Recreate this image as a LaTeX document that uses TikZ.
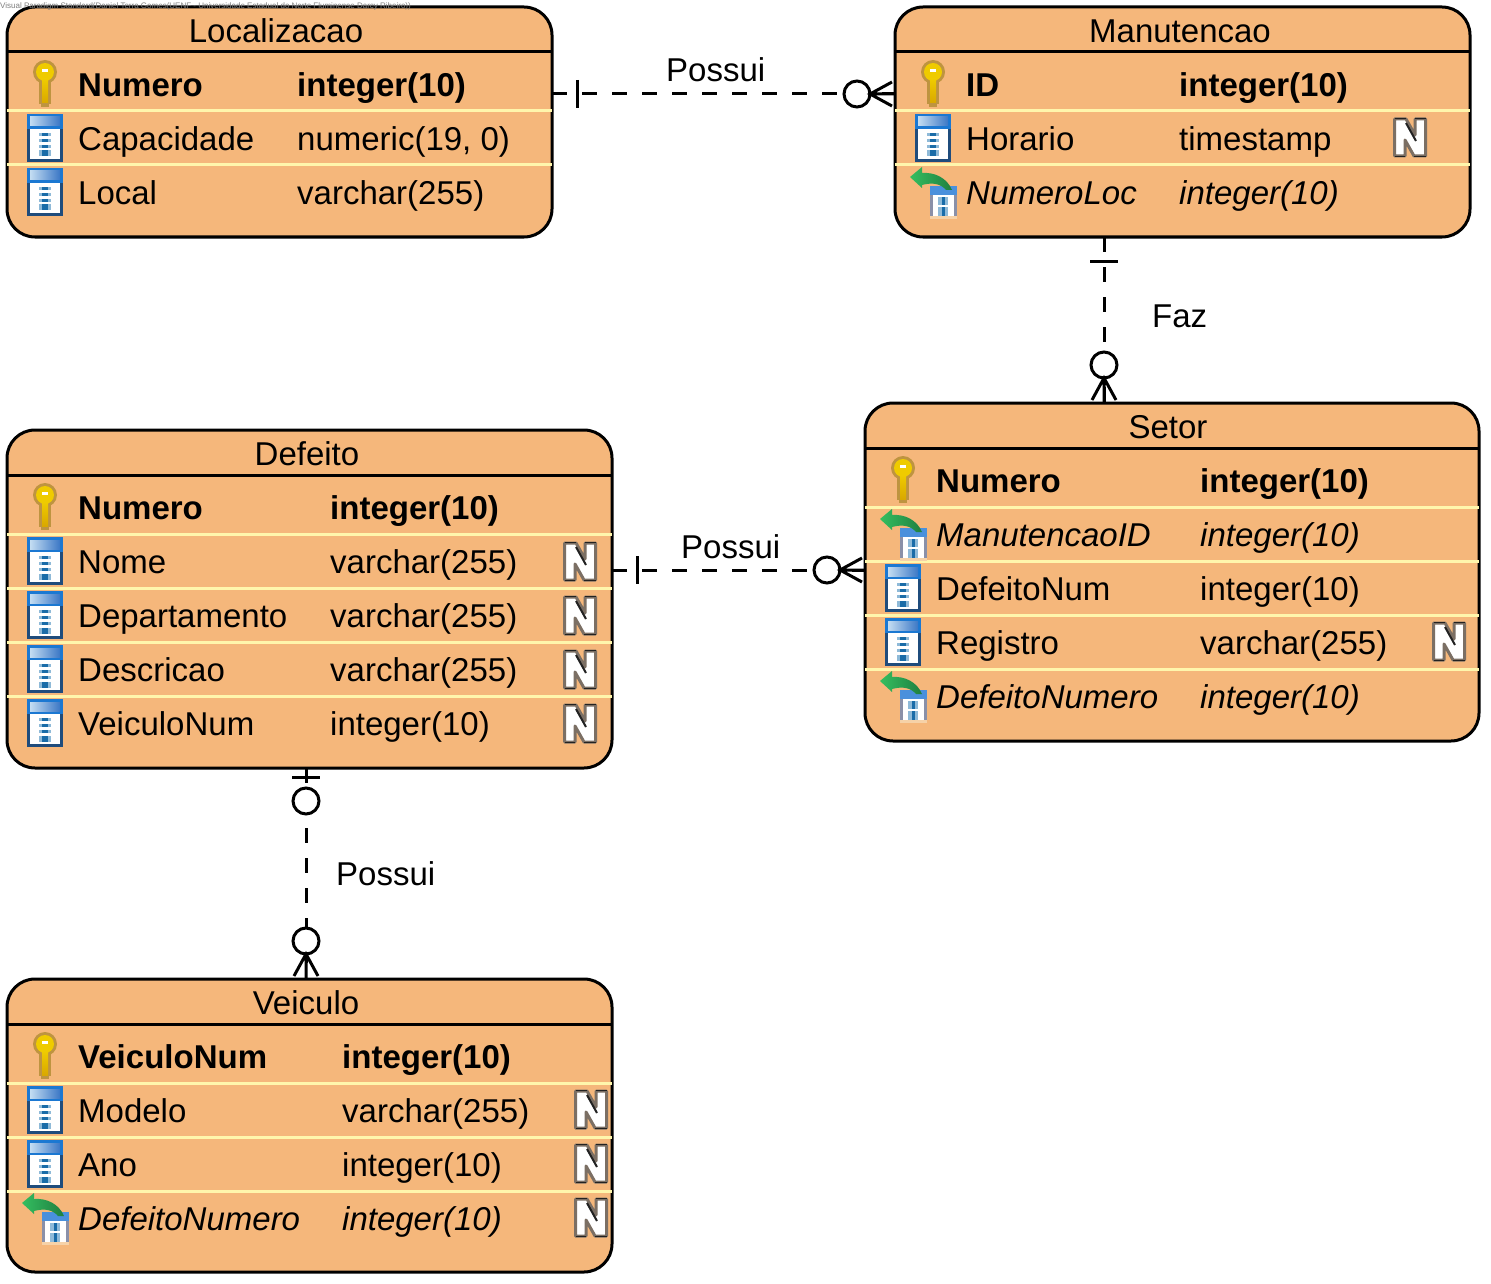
\documentclass[tikz,border=0pt]{standalone}
\usepackage{fontspec}
\setmainfont{Liberation Sans}
\definecolor{tablefill}{HTML}{F5B77B}
\definecolor{sepline}{HTML}{FFF6AC}
\definecolor{keygold}{HTML}{EFCB00}
\definecolor{keylow}{HTML}{D9A800}
\definecolor{keyrim}{HTML}{BE9440}
\definecolor{coldark}{HTML}{1F4C7C}
\definecolor{colblue}{HTML}{1B78D2}
\definecolor{stripe}{HTML}{1A6CA8}
\definecolor{stripelight}{HTML}{8FBAD8}
\definecolor{fkgreen}{HTML}{1F7F40}
\definecolor{fkbright}{HTML}{34BE60}
\definecolor{colbandA}{HTML}{C4DDF2}
\definecolor{colbandB}{HTML}{3C78C6}
\definecolor{fkside}{HTML}{8A90A8}
\definecolor{fkfoot}{HTML}{F6D2A8}
\definecolor{fkband}{HTML}{4A90DC}
\definecolor{nullrim}{HTML}{7B6F64}
\definecolor{nulldark}{HTML}{222222}
\tikzset{
  tablebox/.style={draw=black,line width=3pt,fill=tablefill,rounded corners=28pt,inner sep=0pt,outer sep=0pt},
  headline/.style={draw=black,line width=3pt},
  sepstyle/.style={draw=sepline,line width=3pt},
  titletext/.style={anchor=base,inner sep=0pt,font=\fontsize{33}{36}\selectfont},
  cell/.style={anchor=base west,inner sep=0pt,font=\fontsize{33}{36}\selectfont},
  pkcell/.style={cell,font=\fontsize{33}{36}\selectfont\bfseries},
  fkcell/.style={cell,font=\fontsize{33}{36}\selectfont\itshape},
  rellabel/.style={anchor=base west,inner sep=0pt,font=\fontsize{33}{36}\selectfont},
  relline/.style={draw=black,line width=3pt,dash pattern=on 15pt off 15pt},
  markline/.style={draw=black,line width=3pt},
  keyicon/.pic={
    \fill[keyrim] (-6,-5) rectangle (6,20);
    \fill[keyrim] (-4,20) rectangle (4,23);
    \fill[keyrim] (0,-12) circle (12pt);
    \fill[keygold] (0,-12) circle (9pt);
    \shade[top color=keygold,bottom color=keylow] (-3,-5) rectangle (3,19);
    \fill[white] (-3,-15) rectangle (3,-12);
  },
  colicon/.pic={
    \fill[coldark] (-18,-25) rectangle (18,23);
    \fill[colblue] (-18,-25) rectangle (18,-10);
    \shade[left color=colbandA,right color=colbandB] (-15,-22) rectangle (15,-13);
    \fill[white] (-15,-10) rectangle (15,20);
    \foreach \yy in {-6,0,6}{
      \fill[stripelight] (-6,\yy) rectangle (6,\yy+3);
      \fill[stripe] (-3,\yy) rectangle (3,\yy+3);
    }
    \fill[stripelight] (-6,11.5) rectangle (6,17.5);
    \fill[stripe] (-3,11.5) rectangle (3,17.5);
  },
  fkicon/.pic={
    \fill[white] (-13,-7) rectangle (14,26);
    \fill[fkside] (-13,-7) rectangle (-10,24);
    \fill[fkside] (11,-7) rectangle (14,24);
    \fill[fkfoot] (-13,23) rectangle (14,26);
    \fill[fkband] (-13,-7) rectangle (14,2);
    \fill[stripelight] (-5,4) rectangle (5,12);
    \fill[stripelight] (-5,14) rectangle (5,23);
    \fill[stripe] (-1.5,4) rectangle (1.5,12);
    \fill[stripe] (-1.5,14) rectangle (1.5,23);
    \shade[left color=fkbright,right color=fkgreen] (-33,-16) -- (-21,-26) -- (-21,-20)
      .. controls (-8,-21) and (4,-15) .. (9,-3) -- (3,-3)
      .. controls (-2,-9) and (-10,-11) .. (-21,-8) -- (-21,-5) -- cycle;
  },
  nullicon/.pic={
    \path[draw=nullrim,line width=3pt,line join=round,fill=white]
      (-15.5,-19) -- (-4,-19) -- (5,-3) -- (5,-19) -- (15.5,-19) -- (15.5,18) -- (4,18) -- (-5,2) -- (-5,18) -- (-15.5,18) -- cycle;
    \path[draw=nulldark,line width=1.5pt,line join=round]
      (-15.5,-19.5) -- (-4,-19.5) (5,-19.5) -- (15.5,-19.5) (-15.5,18.5) -- (-5,18.5) (4,18.5) -- (15.5,18.5);
    \path[draw=nulldark,line width=2pt] (-4,-15) -- (6,3);
  },
  manyend/.pic={
    \path[markline,fill=white] (-35,0) circle (13pt);
    \path[markline] (0,-12) -- (-22,0) -- (0,12) (-22,0) -- (3,0);
  },
  oneend/.pic={
    \path[markline] (0,-14) -- (0,14);
  },
  zeroone/.pic={
    \path[markline,fill=white] (0,0) circle (13pt);
  },
}
\begin{document}
\begin{tikzpicture}[x=1pt,y=-1pt]
\useasboundingbox[fill=white] (0,0) rectangle (1491,1284);

% tables
\node[tablebox,minimum width=545pt,minimum height=230pt] (loc) at (279.5,122) {};
\node[tablebox,minimum width=575pt,minimum height=230pt] (man) at (1182.5,122) {};
\node[tablebox,minimum width=614pt,minimum height=338pt] (set) at (1172,572) {};
\node[tablebox,minimum width=605pt,minimum height=338pt] (def) at (309.5,599) {};
\node[tablebox,minimum width=605pt,minimum height=293pt] (vei) at (309.5,1125.5) {};

% header rules and row separators
\draw[headline] (loc.west |- 0,52) -- (loc.east |- 0,52);
\draw[headline] (man.west |- 0,52) -- (man.east |- 0,52);
\draw[headline] (set.west |- 0,448) -- (set.east |- 0,448);
\draw[headline] (def.west |- 0,475) -- (def.east |- 0,475);
\draw[headline] (vei.west |- 0,1024) -- (vei.east |- 0,1024);
\foreach \yy in {111,165}{
  \draw[sepstyle] (loc.west |- 0,\yy) -- (loc.east |- 0,\yy);
  \draw[sepstyle] (man.west |- 0,\yy) -- (man.east |- 0,\yy);
}
\foreach \yy in {507,561,615,669}{\draw[sepstyle] (set.west |- 0,\yy) -- (set.east |- 0,\yy);}
\foreach \yy in {534,588,642,696}{\draw[sepstyle] (def.west |- 0,\yy) -- (def.east |- 0,\yy);}
\foreach \yy in {1083,1137,1191}{\draw[sepstyle] (vei.west |- 0,\yy) -- (vei.east |- 0,\yy);}

% titles
\node[titletext] (locT) at (276,43) {Localizacao};
\node[titletext] (manT) at (1180,43) {Manutencao};
\node[titletext] (setT) at (1168,438) {Setor};
\node[titletext] (defT) at (307,465) {Defeito};
\node[titletext] (veiT) at (306,1014) {Veiculo};

% Localizacao
\node[pkcell] (loc1a) at (78,97) {Numero};
\node[pkcell] (loc1b) at (297,97) {integer(10)};
\node[cell] (loc2a) at (78,151) {Capacidade};
\node[cell] (loc2b) at (297,151) {numeric(19, 0)};
\node[cell] (loc3a) at (78,205) {Local};
\node[cell] (loc3b) at (297,205) {varchar(255)};
\pic at (45,84) {keyicon};
\pic at (45,139) {colicon};
\pic at (45,193) {colicon};

% Manutencao
\node[pkcell] (man1a) at (966,97) {ID};
\node[pkcell] (man1b) at (1179,97) {integer(10)};
\node[cell] (man2a) at (966,151) {Horario};
\node[cell] (man2b) at (1179,151) {timestamp};
\node[fkcell] (man3a) at (966,205) {NumeroLoc};
\node[fkcell] (man3b) at (1179,205) {integer(10)};
\pic at (933,84) {keyicon};
\pic at (933,139) {colicon};
\pic at (943,193) {fkicon};
\pic at (1410,138) {nullicon};

% Setor
\node[pkcell] (set1a) at (936,492) {Numero};
\node[pkcell] (set1b) at (1200,492) {integer(10)};
\node[fkcell] (set2a) at (936,546) {ManutencaoID};
\node[fkcell] (set2b) at (1200,546) {integer(10)};
\node[cell] (set3a) at (936,600) {DefeitoNum};
\node[cell] (set3b) at (1200,600) {integer(10)};
\node[cell] (set4a) at (936,654) {Registro};
\node[cell] (set4b) at (1200,654) {varchar(255)};
\node[fkcell] (set5a) at (936,708) {DefeitoNumero};
\node[fkcell] (set5b) at (1200,708) {integer(10)};
\pic at (903,480) {keyicon};
\pic at (913,535) {fkicon};
\pic at (903,589) {colicon};
\pic at (903,643) {colicon};
\pic at (913,697) {fkicon};
\pic at (1449,642) {nullicon};

% Defeito
\node[pkcell] (def1a) at (78,519) {Numero};
\node[pkcell] (def1b) at (330,519) {integer(10)};
\node[cell] (def2a) at (78,573) {Nome};
\node[cell] (def2b) at (330,573) {varchar(255)};
\node[cell] (def3a) at (78,627) {Departamento};
\node[cell] (def3b) at (330,627) {varchar(255)};
\node[cell] (def4a) at (78,681) {Descricao};
\node[cell] (def4b) at (330,681) {varchar(255)};
\node[cell] (def5a) at (78,735) {VeiculoNum};
\node[cell] (def5b) at (330,735) {integer(10)};
\pic at (45,507) {keyicon};
\foreach \yy in {562,616,670,724}{\pic at (45,\yy) {colicon}; \pic at (580,\yy) {nullicon};}

% Veiculo
\node[pkcell] (vei1a) at (78,1068) {VeiculoNum};
\node[pkcell] (vei1b) at (342,1068) {integer(10)};
\node[cell] (vei2a) at (78,1122) {Modelo};
\node[cell] (vei2b) at (342,1122) {varchar(255)};
\node[cell] (vei3a) at (78,1176) {Ano};
\node[cell] (vei3b) at (342,1176) {integer(10)};
\node[fkcell] (vei4a) at (78,1230) {DefeitoNumero};
\node[fkcell] (vei4b) at (342,1230) {integer(10)};
\pic at (45,1056) {keyicon};
\pic at (45,1111) {colicon};
\pic at (45,1165) {colicon};
\pic at (55,1219) {fkicon};
\foreach \yy in {1110,1164,1218}{\pic at (591,\yy) {nullicon};}

% relationships
\draw[relline] (loc.east |- 0,94) -- (man.west |- 0,94);
\pic at (577,94) {oneend};
\pic at (892,94) {manyend};
\node[rellabel] (lblA) at (666,82) {Possui};

\draw[relline] (def.east |- 0,570) -- (set.west |- 0,570);
\pic at (637,570) {oneend};
\pic at (862,570) {manyend};
\node[rellabel] (lblB) at (681,558) {Possui};

\draw[relline] (man.south -| 1104,0) -- (set.north -| 1104,0);
\pic[rotate=90] at (1104,261) {oneend};
\pic[rotate=-90] at (1104,400) {manyend};
\node[rellabel] (lblC) at (1152,327) {Faz};

\draw[relline] (def.south -| 306,0) -- (vei.north -| 306,0);
\pic[rotate=90] at (306,777) {oneend};
\pic at (306,801) {zeroone};
\pic[rotate=-90] at (306,976) {manyend};
\node[rellabel] (lblD) at (336,885) {Possui};

% watermark
\node[anchor=base west,inner sep=0pt,text=gray,font=\fontsize{8}{9}\selectfont] (wm) at (0,9) {Visual Paradigm Standard(Daniel Terra Gomes(UENF - Universidade Estadual do Norte Fluminense Darcy Ribeiro))};
\end{tikzpicture}
\end{document}
